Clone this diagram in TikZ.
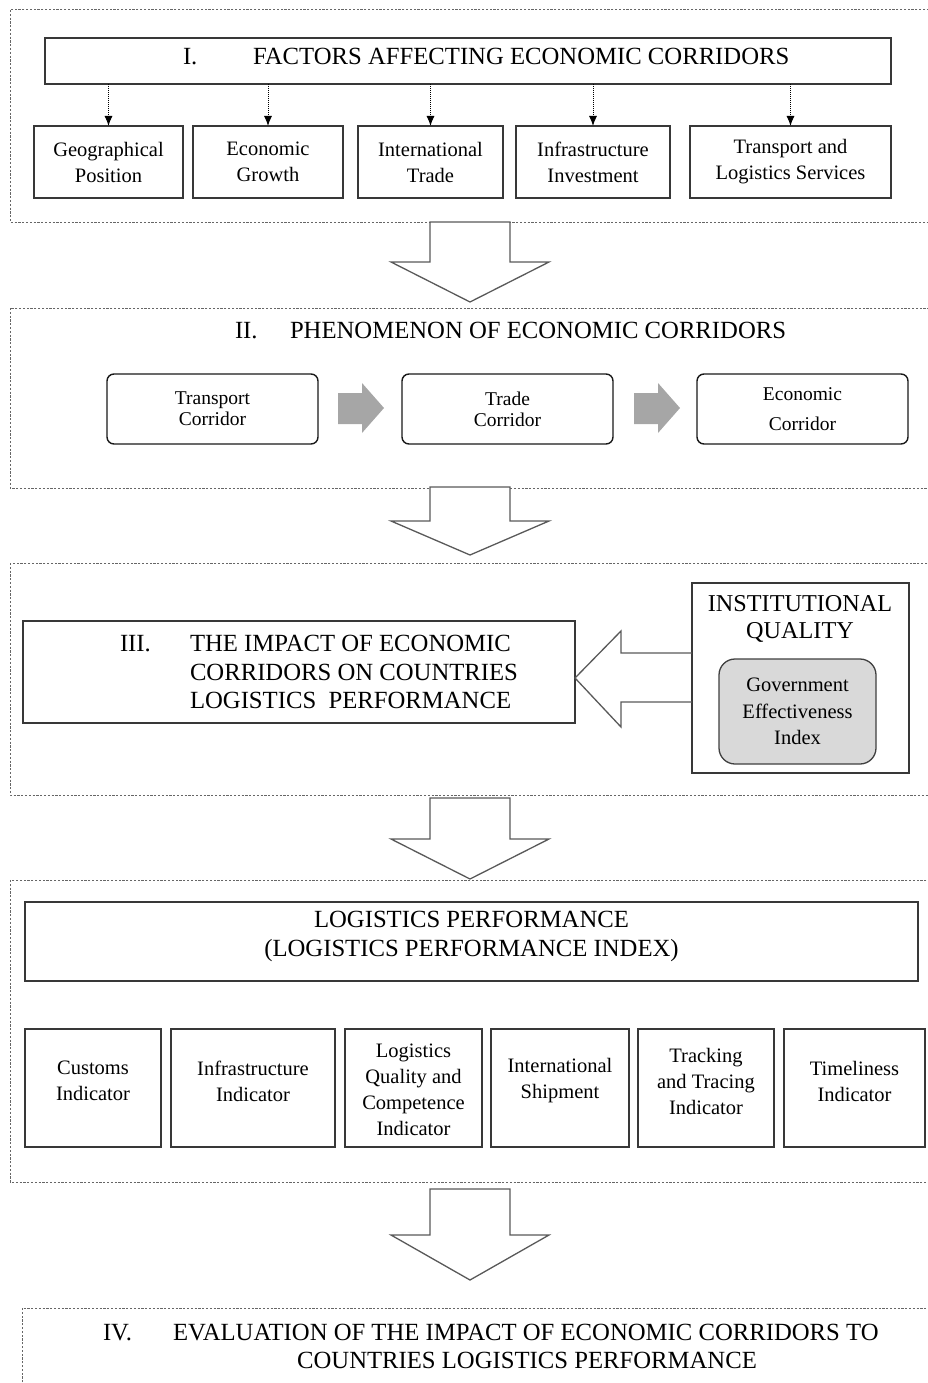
\documentclass[tikz,border=0pt]{standalone}
\usepackage{fontspec}
\setmainfont{Liberation Serif}
\usetikzlibrary{calc,arrows.meta}
\tikzset{
  every node/.style={inner sep=0pt, outer sep=0pt},
  sect/.style={draw=black!60, dash pattern=on 2.2pt off 1.6pt, line width=1pt},
  box/.style={draw=black!78, line width=1.6pt, fill=white},
  rbox/.style={draw=black!90, line width=1.4pt, rounded corners=7pt, fill=white},
  gbox/.style={draw=black!75, line width=1.3pt, rounded corners=16pt, fill=black!15},
  body/.style={font=\fontsize{20.5}{26}\selectfont, align=center},
  bodyb/.style={font=\fontsize{19.5}{21}\selectfont, align=center},
  head/.style={font=\fontsize{24.7}{29}\selectfont},
  bigarrow/.style={draw=black!65, line width=1.3pt, fill=white, line join=miter},
  grayarrow/.style={fill=black!35, draw=none},
  dotarrow/.style={densely dotted, line width=1pt, -{Latex[length=10pt,width=8pt]}}
}
\begin{document}
\begin{tikzpicture}[x=1pt,y=-1pt]
\useasboundingbox (0,0) rectangle (927,1383);

% ---------- Section I ----------
\draw[sect] (10,10) rectangle (930,222);
\node[box, minimum width=846, minimum height=46] (t1) at (468,61) {};
\node[head, anchor=base west] (t1n) at (183,65) {I.};
\node[head, anchor=base west] (t1t) at (253,65) {FACTORS AFFECTING ECONOMIC CORRIDORS};

\node[box, minimum width=149, minimum height=72] (g1) at (108.5,162) {};
\node[body] (g1t) at (g1.center) {Geographical\\Position};
\node[box, minimum width=150, minimum height=72] (g2) at (268,162) {};
\node[body] (g2t) at (g2.center) {Economic\\Growth};
\node[box, minimum width=145, minimum height=72] (g3) at (430.5,162) {};
\node[body] (g3t) at (g3.center) {International\\Trade};
\node[box, minimum width=154, minimum height=72] (g4) at (593,162) {};
\node[body] (g4t) at (g4.center) {Infrastructure\\Investment};
\node[box, minimum width=201, minimum height=72] (g5) at (790.5,162) {};
\node[body] (g5t) at (g5.center) {Transport and\\Logistics Services};

\foreach \b in {g1,g2,g3,g4,g5}{
  \draw[dotarrow] (t1.south -| \b.north) -- (\b.north);
}

% big arrow 1
\draw[bigarrow] (430,222) -- (430,262) -- (391,262) -- (470,302) -- (549,262) -- (510,262) -- (510,222) -- cycle;

% ---------- Section II ----------
\draw[sect] (10,308) rectangle (930,488);
\node[head, anchor=base west] (t2n) at (235,338) {II.};
\node[head, anchor=base west] (t2t) at (290,338) {PHENOMENON OF ECONOMIC CORRIDORS};

\node[rbox, minimum width=211, minimum height=70] (tc) at (212.5,409) {};
\node[bodyb] (tct) at (tc.center) {Transport\\Corridor};
\node[rbox, minimum width=211, minimum height=70] (tr) at (507.5,409) {};
\node[bodyb] (trt) at (tr.center) {Trade\\Corridor};
\node[rbox, minimum width=211, minimum height=70] (ec) at (802.5,409) {};
\node[bodyb, font=\fontsize{19.5}{30}\selectfont] (ect) at (ec.center) {Economic\\Corridor};

\fill[grayarrow] ($(tc.east)+(20,-16)$) -- ++(24,0) -- ++(0,-10) -- ++(22,25) -- ++(-22,25) -- ++(0,-9) -- ++(-24,0) -- cycle;
\fill[grayarrow] ($(tr.east)+(21,-16)$) -- ++(24,0) -- ++(0,-10) -- ++(22,25) -- ++(-22,25) -- ++(0,-9) -- ++(-24,0) -- cycle;

% big arrow 2
\draw[bigarrow] (430,487) -- (430,521) -- (391,521) -- (470,555) -- (549,521) -- (510,521) -- (510,487) -- cycle;

% ---------- Section III ----------
\draw[sect] (10,563) rectangle (930,795);
\node[box, minimum width=552, minimum height=102] (b3) at (299,672) {};
\node[head, anchor=base west] (b3n) at (120,651) {III.};
\node[head, anchor=base west] (b3a) at (190,651) {THE IMPACT OF ECONOMIC};
\node[head, anchor=base west] (b3b) at (190,680) {CORRIDORS ON COUNTRIES};
\node[head, anchor=base west] (b3c) at (190,708) {LOGISTICS\ \ PERFORMANCE};

\node[box, minimum width=217, minimum height=190] (iq) at (800.5,678) {};
\node[head, align=center, font=\fontsize{24.2}{27}\selectfont] (iqt) at (800,619) {INSTITUTIONAL\\QUALITY};
\node[gbox, minimum width=157, minimum height=105] (ge) at (797.5,711.5) {};
\node[body, font=\fontsize{20.5}{26.5}\selectfont] (get) at (ge.center) {Government\\Effectiveness\\Index};

\draw[bigarrow, fill=none] (iq.west |- 0,653) -- (621,653) -- (621,631) -- (b3.east |- 0,678) -- (621,727) -- (621,702) -- (iq.west |- 0,702);

% big arrow 3
\draw[bigarrow] (430,798) -- (430,839) -- (391,839) -- (470,879) -- (549,839) -- (510,839) -- (510,798) -- cycle;

% ---------- Section IV ----------
\draw[sect] (10,880) rectangle (930,1182);
\node[box, minimum width=893, minimum height=79] (lp) at (471.5,941.5) {};
\node[head, align=center] (lpt) at ([yshift=5pt]lp.center) {LOGISTICS PERFORMANCE\\(LOGISTICS PERFORMANCE INDEX)};

\node[box, minimum width=136, minimum height=118] (c1) at (93,1088) {};
\node[body] (c1t) at ([yshift=7pt]c1.center) {Customs\\Indicator};
\node[box, minimum width=164, minimum height=118] (c2) at (253,1088) {};
\node[body] (c2t) at ([yshift=7pt]c2.center) {Infrastructure\\Indicator};
\node[box, minimum width=137, minimum height=118] (c3) at (413.5,1088) {};
\node[body] (c3t) at ([yshift=-2pt]c3.center) {Logistics\\Quality and\\Competence\\Indicator};
\node[box, minimum width=138, minimum height=118] (c4) at (560,1088) {};
\node[body] (c4t) at ([yshift=7pt]c4.center) {International\\Shipment};
\node[box, minimum width=136, minimum height=118] (c5) at (706,1088) {};
\node[body] (c5t) at ([yshift=7pt]c5.center) {Tracking\\and Tracing\\Indicator};
\node[box, minimum width=141, minimum height=118] (c6) at (854.5,1088) {};
\node[body] (c6t) at ([yshift=7pt]c6.center) {Timeliness\\Indicator};

% big arrow 4
\draw[bigarrow] (430,1189) -- (430,1235) -- (391,1235) -- (470,1280) -- (549,1235) -- (510,1235) -- (510,1189) -- cycle;

% ---------- Section V ----------
\draw[sect] (22,1390) -- (22,1308) -- (930,1308);
\node[head, anchor=base west] (t5n) at (103,1340) {IV.};
\node[head, anchor=base west] (t5a) at (173,1340) {EVALUATION OF THE IMPACT OF ECONOMIC CORRIDORS TO};
\node[head, anchor=base] (t5b) at (527,1368) {COUNTRIES LOGISTICS PERFORMANCE};
\end{tikzpicture}
\end{document}
